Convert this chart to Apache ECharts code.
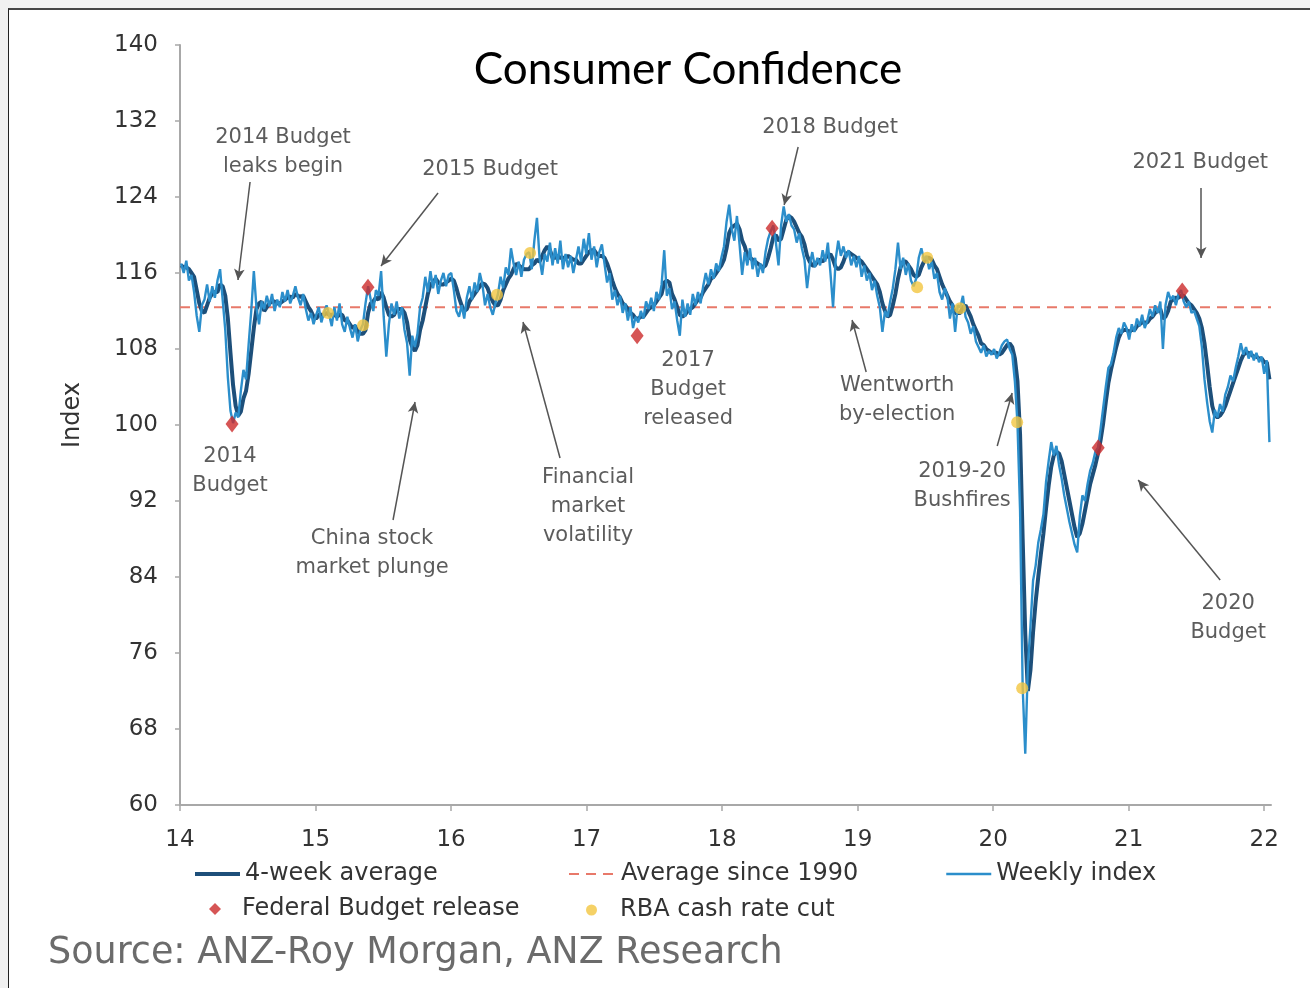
<!DOCTYPE html>
<html>
<head>
<meta charset="utf-8">
<title>Consumer Confidence</title>
<script src="https://cdn.jsdelivr.net/npm/echarts@6/dist/echarts.min.js"></script>
<style>
  html, body { margin: 0; padding: 0; width: 1310px; height: 988px; background: #f1f1f1; overflow: hidden; }
  #frame { position: absolute; left: 8px; top: 8px; right: 0; bottom: 0; background: #fff;
           border-top: 2px solid #454545; border-left: 1px solid #222; }
  #chart { position: absolute; left: 0; top: 0; width: 1310px; height: 988px; }
</style>
</head>
<body>
<div id="frame"></div>
<div id="chart"></div>
<script>
// ANZ-Roy Morgan consumer confidence, weekly readings from the first week of 2014
const firstWeekDay = 3;          // day of year of the first weekly reading (4 Jan 2014)
const startYear = 14;            // axis is labelled in two-digit years

const weekly2014 = [117.0,116.0,117.3,115.2,115.8,114.0,111.5,109.8,112.6,113.2,114.8,113.0,114.6,113.4,115.2,116.4,113.2,110.0,105.0,101.5,100.2,101.3,100.8,103.6,105.8,104.8,108.5,112.0,116.2,112.4,110.6,113.0,112.2,113.6,112.5,113.8,112.0,113.2,112.4,114.0,113.0,114.2,112.8,113.6,114.6,113.4,112.6,113.8,112.2,111.0,111.8,110.6];
const weekly2015 = [111.6,112.4,110.8,111.8,112.6,111.6,110.4,112.4,111.0,112.8,110.6,109.8,111.4,110.2,109.2,110.6,108.8,110.0,110.6,112.8,114.6,113.2,112.0,114.2,113.6,116.2,111.4,107.2,110.6,112.8,111.6,113.0,111.2,112.4,110.0,108.6,105.2,109.4,108.2,109.6,112.4,113.4,115.6,114.0,116.2,114.4,115.8,113.8,115.2,116.0,114.6,115.8];
const weekly2016 = [116.0,114.2,112.0,111.4,112.6,111.2,113.4,114.6,113.2,115.0,114.0,116.0,114.8,112.6,113.8,112.4,111.6,112.8,113.8,115.6,114.4,116.6,115.8,118.6,117.0,115.8,117.2,115.6,117.4,118.0,118.2,116.4,119.4,121.8,117.6,115.8,118.0,117.2,119.2,116.8,118.6,117.0,119.4,116.4,118.0,116.6,117.8,116.0,117.4,118.8,117.2,119.6];
const weekly2017 = [118.0,120.2,117.4,118.8,116.6,118.2,119.0,117.0,115.0,116.0,113.2,114.2,112.6,113.6,111.8,112.8,111.0,112.4,110.2,111.4,110.8,112.0,111.2,113.0,112.2,113.4,112.0,114.0,113.2,114.8,118.4,113.6,114.4,112.2,113.0,111.0,109.4,113.2,111.4,112.8,111.6,113.8,112.6,114.0,112.8,114.6,116.0,114.8,116.4,115.4,117.0,116.2];
const weekly2018 = [117.6,118.8,121.4,123.2,120.6,119.4,122.0,119.0,115.8,118.2,116.8,118.6,116.4,117.6,115.6,117.0,116.0,118.2,119.6,120.4,121.0,119.2,116.8,121.0,123.0,121.4,122.2,121.0,120.6,119.2,120.2,118.6,117.4,114.4,116.8,118.2,116.6,117.6,116.8,118.4,117.2,119.2,116.0,112.4,117.4,119.4,117.8,118.8,117.6,118.4,116.8,117.8];
const weekly2019 = [116.6,117.8,115.6,116.8,115.2,116.0,114.2,115.2,113.6,112.4,109.8,112.0,111.4,113.0,114.4,116.4,119.2,116.4,117.6,115.8,117.0,115.2,114.6,115.4,117.6,118.6,117.4,117.8,116.4,117.2,115.4,116.0,114.0,113.2,114.4,113.6,111.2,112.8,109.8,112.6,112.4,113.6,111.4,110.8,109.6,110.4,108.8,108.2,107.6,108.4,107.2,107.8];
const weekly2020 = [107.4,108.0,107.0,107.6,108.4,108.8,109.0,108.0,107.4,104.6,100.2,91.0,72.4,65.4,74.6,78.8,83.6,85.2,87.6,89.0,90.6,94.0,96.2,98.2,96.8,97.8,95.8,94.4,92.6,91.2,89.8,88.6,87.4,86.6,90.4,92.6,92.0,93.8,95.2,96.0,97.2,97.6,99.6,101.8,104.0,106.0,106.4,107.6,109.2,110.2,109.6,110.8];
const weekly2021 = [110.2,109.0,110.6,109.8,111.2,110.4,111.6,110.2,111.0,112.2,111.4,112.6,111.8,113.0,108.0,112.6,114.0,113.2,113.6,112.6,113.8,114.2,113.0,112.4,113.0,111.8,112.0,111.2,110.4,108.2,104.8,102.4,100.4,99.2,101.6,100.8,102.2,101.4,103.2,104.0,105.2,104.6,106.0,107.2,108.6,107.4,108.2,107.0,107.8,106.8,107.6,106.6];
const weekly2022 = [107.2,105.4,106.8,98.2];

const avg2014 = [116.8,116.6,116.6,116.4,116.0,115.6,114.2,112.8,112.0,111.8,112.6,113.4,113.8,114.0,114.0,114.8,114.6,113.6,111.2,107.6,104.2,102.0,101.0,101.4,102.8,103.6,105.4,107.8,110.2,112.2,112.8,113.0,112.0,112.4,112.8,113.0,113.0,112.8,112.8,113.0,113.2,113.4,113.5,113.4,113.8,113.6,113.5,113.6,113.0,112.4,112.0,111.4];
const avg2015 = [111.2,111.6,111.6,111.6,111.8,111.6,111.6,111.6,111.4,111.6,111.6,111.0,111.0,110.6,110.2,110.4,109.8,109.6,109.6,110.0,111.8,112.8,113.0,113.4,113.2,114.0,113.4,112.4,111.6,111.4,111.6,112.2,112.2,112.2,111.8,110.8,109.0,108.2,107.8,108.4,110.0,111.0,112.4,113.8,114.8,115.0,115.4,115.0,114.8,114.8,115.0,115.2];
const avg2016 = [115.4,115.2,114.4,113.4,112.6,112.0,112.2,113.0,113.4,113.8,114.2,114.6,114.9,114.8,114.4,113.6,113.0,112.6,112.6,113.2,114.2,114.8,115.4,115.8,116.4,117.0,116.8,116.6,116.4,116.4,116.4,116.8,117.0,117.4,117.2,117.8,118.4,118.8,118.4,117.6,117.6,117.8,117.6,117.6,117.6,117.8,117.6,117.4,117.4,117.0,117.0,117.4];
const avg2017 = [117.8,118.2,118.4,118.4,118.0,117.8,117.8,117.6,117.0,116.2,115.2,114.4,113.8,113.4,112.8,112.6,112.2,111.8,111.6,111.2,111.2,111.4,111.4,111.8,112.2,112.4,112.6,113.0,113.4,113.8,115.0,115.2,115.0,113.8,113.2,112.4,111.6,111.4,111.6,112.0,112.2,112.4,112.8,113.2,113.4,114.0,114.4,114.8,115.4,115.6,116.0,116.4];
const avg2018 = [116.8,117.4,118.6,120.2,120.8,121.0,121.2,120.6,119.4,118.8,117.8,117.6,117.4,117.2,117.0,116.8,116.6,116.8,117.6,118.6,119.8,120.0,119.4,119.6,120.6,121.6,122.0,121.8,121.4,120.8,120.2,119.8,119.0,117.8,117.2,116.8,116.8,117.2,117.4,117.2,117.6,117.8,118.0,117.4,116.6,116.4,116.6,117.2,118.0,118.2,118.0,117.8];
const avg2019 = [117.6,117.4,117.2,116.8,116.4,116.0,115.6,115.2,114.8,114.0,112.8,112.0,111.4,111.6,112.6,113.8,115.4,116.6,117.2,117.2,116.8,116.4,115.8,115.6,115.8,116.6,117.2,117.6,117.6,117.4,116.8,116.4,115.6,114.8,114.2,113.6,113.0,112.6,111.8,111.8,111.8,112.4,112.6,112.0,111.4,110.6,110.0,109.4,108.6,108.4,108.0,107.8];
const avg2020 = [107.6,107.6,107.6,107.4,107.6,108.0,108.4,108.6,108.2,107.0,104.6,99.0,88.0,78.0,72.0,74.2,78.2,81.4,84.0,86.4,88.6,91.2,93.6,95.6,96.8,97.2,97.0,96.2,94.8,93.4,92.0,90.6,89.2,88.2,88.6,89.6,91.0,92.4,93.8,94.8,95.8,97.0,98.4,100.2,102.4,104.4,105.8,107.0,108.2,109.2,109.8,110.0];
const avg2021 = [110.0,109.8,110.0,110.0,110.4,110.6,110.8,110.8,110.8,111.2,111.4,111.8,112.0,112.2,111.2,111.4,112.0,113.0,113.2,113.4,113.4,113.6,113.6,113.2,112.8,112.6,112.2,111.8,111.2,110.2,108.6,106.4,104.0,102.0,101.0,100.8,101.0,101.4,102.0,102.8,103.6,104.4,105.2,106.0,106.8,107.4,107.6,107.6,107.4,107.2,107.2,107.0];
const avg2022 = [107.0,106.6,106.6,104.8];

// long-run average of the index since 1990
const averageSince1990 = 112.4;

// federal budget releases (decimal year, index)
const budgetDates  = [14.384, 15.387, 17.373, 18.369, 20.775, 21.395];
const budgetValues = [100.1, 114.5, 109.4, 120.7, 97.6, 114.1];

// RBA cash rate cuts (decimal year, index)
const rbaCutDates  = [15.092, 15.351, 16.339, 16.583, 19.439, 19.513, 19.756, 20.177, 20.214];
const rbaCutValues = [111.8, 110.5, 113.7, 118.1, 114.5, 117.6, 112.3, 100.3, 72.3];

// axis ticks
const xTickValues = [14, 15, 16, 17, 18, 19, 20, 21, 22];
const xTickLabels = ['14', '15', '16', '17', '18', '19', '20', '21', '22'];
const xMin = 14, xMax = 22.05;
const yMin = 60, yMax = 140, yStep = 8;

// event notes and their pointer arrows, placed in axis units
const notes = [
  { text: '2014 Budget\nleaks begin', at: [14.760, 128.74] },
  { text: '2015 Budget', at: [16.288, 126.84] },
  { text: '2018 Budget', at: [18.797, 131.26] },
  { text: '2021 Budget', at: [21.528, 127.58] },
  { text: '2014\nBudget', at: [14.369, 95.16] },
  { text: 'China stock\nmarket plunge', at: [15.417, 86.53] },
  { text: 'Financial\nmarket\nvolatility', at: [17.011, 91.37] },
  { text: '2017\nBudget\nreleased', at: [17.749, 103.68] },
  { text: 'Wentworth\nby-election', at: [19.292, 102.63] },
  { text: '2019-20\nBushfires', at: [19.771, 93.58] },
  { text: '2020\nBudget', at: [21.734, 79.68] }
];
const arrows = [
  [[14.517, 125.58], [14.428, 115.26]],
  [[15.904, 124.42], [15.483, 116.74]],
  [[18.561, 129.26], [18.458, 123.16]],
  [[21.535, 124.95], [21.535, 117.58]],
  [[15.572, 90.00], [15.734, 102.42]],
  [[16.804, 96.53], [16.531, 110.84]],
  [[19.063, 105.58], [18.959, 111.05]],
  [[20.030, 97.79], [20.140, 103.37]],
  [[21.675, 83.68], [21.070, 94.21]]
];

const weeklyIndex = [].concat(weekly2014, weekly2015, weekly2016, weekly2017, weekly2018, weekly2019, weekly2020, weekly2021, weekly2022);
const fourWeekAvg = [].concat(avg2014, avg2015, avg2016, avg2017, avg2018, avg2019, avg2020, avg2021, avg2022);
const weekX = i => startYear + (firstWeekDay + 7 * i) / 365.25;

const FONT = 'DejaVu Sans';
const chart = echarts.init(document.getElementById('chart'), null, { renderer: 'canvas' });

const legendText = { fontFamily: FONT, fontSize: 24, color: '#333' };
const lineLegend = (left, top, width, lineWidth, name) => ({
  left, top, itemWidth: width, itemHeight: 14, padding: 0, selectedMode: false,
  itemStyle: { opacity: 0 },           // line swatch only, no centre marker
  lineStyle: { width: lineWidth },
  textStyle: legendText, data: [name]
});
const markLegend = (left, top, size, gap, name) => ({
  left, top, itemWidth: size, itemHeight: size, padding: 0, selectedMode: false,
  textStyle: Object.assign({ padding: [0, 0, 0, gap] }, legendText), data: [name]
});

chart.setOption({
  animation: false,
  textStyle: { fontFamily: FONT },
  grid: { left: 180, top: 45, width: 1091, height: 760 },
  xAxis: {
    type: 'value', min: xMin, max: xMax,
    axisLine: { show: true, lineStyle: { color: '#a8a8a8', width: 2 } },
    axisTick: { show: true, customValues: xTickValues, length: 6, lineStyle: { color: '#a8a8a8', width: 1.5 } },
    axisLabel: {
      customValues: xTickValues, margin: 24,
      formatter: v => xTickLabels[xTickValues.indexOf(Math.round(v))] || '',
      fontFamily: FONT, fontSize: 23, color: '#333'
    },
    splitLine: { show: false }
  },
  yAxis: {
    type: 'value', min: yMin, max: yMax, interval: yStep,
    axisLine: { show: true, lineStyle: { color: '#a8a8a8', width: 2 } },
    axisTick: { show: true, length: 5, lineStyle: { color: '#a8a8a8', width: 1.5 } },
    axisLabel: { margin: 22, fontFamily: FONT, fontSize: 23, color: '#333' },
    splitLine: { show: false }
  },
  legend: [
    lineLegend(193, 862, 45, 4, '4-week average'),
    lineLegend(568, 862, 47, 2, 'Average since 1990'),
    lineLegend(945, 862, 45, 2.5, 'Weekly index'),
    markLegend(209, 897, 12, 16, 'Federal Budget release'),
    markLegend(586, 898, 11, 18, 'RBA cash rate cut')
  ],
  graphic: [
    { type: 'text', x: 688, y: 70,
      style: { text: 'Consumer Confidence', font: '44px Lato, "Open Sans", sans-serif', fill: '#000',
               align: 'center', verticalAlign: 'middle' } },
    { type: 'text', x: 73, y: 415, rotation: Math.PI / 2,
      style: { text: 'Index', font: '24px "DejaVu Sans"', fill: '#333', align: 'center', verticalAlign: 'middle' } },
    { type: 'text', x: 48, y: 954,
      style: { text: 'Source: ANZ-Roy Morgan, ANZ Research', font: '36.5px "DejaVu Sans"', fill: '#6b6b6b', verticalAlign: 'middle' } }
  ],
  series: [
    {
      name: '4-week average', type: 'line', symbol: 'none', z: 2,
      data: fourWeekAvg.map((v, i) => [weekX(i), v]),
      lineStyle: { color: '#1d4f7a', width: 4 }, itemStyle: { color: '#1d4f7a' }
    },
    {
      name: 'Weekly index', type: 'line', symbol: 'none', z: 3,
      data: weeklyIndex.map((v, i) => [weekX(i), v]),
      lineStyle: { color: '#2b8ecb', width: 2.4 }, itemStyle: { color: '#2b8ecb' }
    },
    {
      name: 'Average since 1990', type: 'line', symbol: 'none', z: 1,
      data: [[xMin, averageSince1990], [xMax, averageSince1990]],
      lineStyle: { color: '#e8796a', width: 2, type: [10, 7] }, itemStyle: { color: '#e8796a' }
    },
    {
      name: 'Federal Budget release', type: 'scatter', symbol: 'diamond', symbolSize: [13, 17], z: 5,
      data: budgetDates.map((d, i) => [d, budgetValues[i]]),
      itemStyle: { color: '#cc2a2a' }
    },
    {
      name: 'RBA cash rate cut', type: 'scatter', symbol: 'circle', symbolSize: 12, z: 5,
      data: rbaCutDates.map((d, i) => [d, rbaCutValues[i]]),
      itemStyle: { color: '#f2c640' }
    },
    {
      name: 'notes', type: 'scatter', symbol: 'circle', symbolSize: 1, z: 6, silent: true,
      data: notes.map(n => ({ value: n.at, label: { formatter: n.text } })),
      itemStyle: { color: 'transparent' },
      label: {
        show: true, position: 'inside', align: 'center', verticalAlign: 'middle',
        fontFamily: FONT, fontSize: 21, lineHeight: 29, color: '#333'
      },
      markLine: {
        silent: true, animation: false,
        symbol: ['none', 'arrow'], symbolSize: [8, 11],
        label: { show: false },
        lineStyle: { color: '#555', width: 1.5, type: 'solid' },
        emphasis: { disabled: true },
        data: arrows.map(a => [{ coord: a[0] }, { coord: a[1] }])
      }
    }
  ]
});
</script>
</body>
</html>
